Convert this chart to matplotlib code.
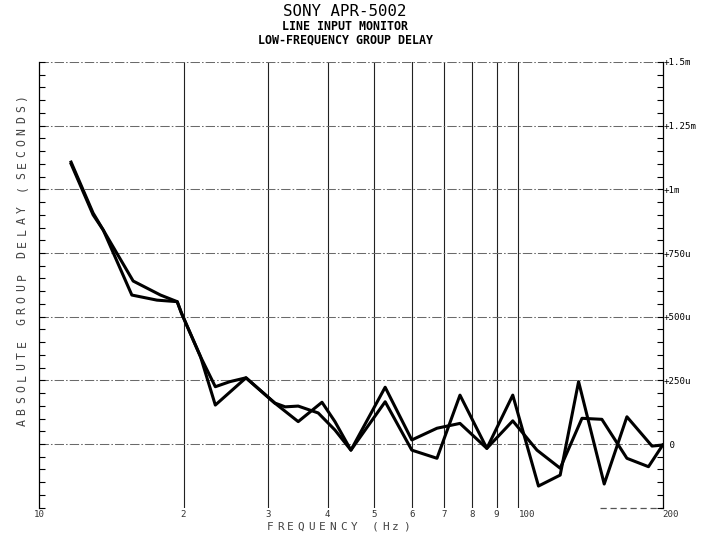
import numpy as np
import matplotlib
matplotlib.use("Agg")
import matplotlib.pyplot as plt
from matplotlib.ticker import MultipleLocator, NullLocator, FixedLocator

W, H = 705, 535
MONO = "DejaVu Sans Mono"

# frequency in Hz, group delay in microseconds
freq_a = [11.65, 12.95, 13.6, 15.7, 17.9, 19.4, 19.8, 21.7, 23.3, 25.0,
          27.0, 31.0, 32.6, 34.7, 38.2, 41.4, 44.7, 52.7, 59.9, 67.6,
          75.5, 85.9, 97.3, 110.1, 122.2, 133.5, 151.0, 168.4, 190.0, 200.0]
delay_a = [1107, 907, 840, 640, 585, 559, 514, 343, 225, 245,
           260, 161, 146, 149, 122, 55, -24, 223, 16, 62,
           81, -17, 192, -165, -122, 245, -157, 107, -8, -4]

freq_b = [11.65, 12.95, 13.6, 15.6, 17.6, 19.4, 19.8, 21.7, 23.3, 27.0,
          31.0, 34.7, 38.9, 41.4, 44.7, 52.7, 59.9, 67.6, 75.5, 85.9,
          97.3, 109.3, 122.2, 135.7, 149.3, 168.4, 186.8, 200.0]
delay_b = [1100, 900, 840, 585, 565, 559, 514, 343, 153, 260,
           161, 88, 164, 88, -24, 166, -24, -56, 192, -17,
           91, -24, -95, 101, 97, -56, -89, -4]

x_ticks = [10, 20, 30, 40, 50, 60, 70, 80, 90, 100, 200]
x_tick_labels = ["10", "2", "3", "4", "5", "6", "7", "8", "9", "100", "200"]
grid_freqs = [20, 30, 40, 50, 60, 70, 80, 90, 100]
y_ticks = [-250, 0, 250, 500, 750, 1000, 1250, 1500]
y_tick_labels = ["", " 0", "+250u", "+500u", "+750u", "+1m", "+1.25m", "+1.5m"]

title_lines = ["SONY APR-5002", "LINE INPUT MONITOR", "LOW-FREQUENCY GROUP DELAY"]
y_label = "ABSOLUTE GROUP DELAY (SECONDS)"
x_label = "FREQUENCY (Hz)"


def spaced_text(fig, s, x_px, y_px, pitch, vertical=False, **kw):
    # plotter style lettering: one glyph per fixed cell
    n = len(s)
    for i, ch in enumerate(s):
        if ch == " ":
            continue
        off = (i - (n - 1) / 2) * pitch
        if vertical:
            fig.text(x_px / W, 1 - (y_px - off) / H, ch, rotation=90,
                     ha="center", va="center", **kw)
        else:
            fig.text((x_px + off) / W, 1 - y_px / H, ch,
                     ha="center", va="center", **kw)


fig = plt.figure(figsize=(W / 100, H / 100), dpi=100)
x0, x1, y_top, y_bot = 39.3, 662.7, 62.0, 507.7
ax = fig.add_axes([x0 / W, (H - y_bot) / H, (x1 - x0) / W, (y_bot - y_top) / H])

ax.set_xscale("log")
ax.set_xlim(10, 200)
ax.set_ylim(-250, 1500)

for f in grid_freqs:
    ax.axvline(f, color="#222222", lw=0.8, zorder=1)
for v in y_ticks[1:]:
    ax.axhline(v, color="#6a6a6a", lw=0.75, ls=(0, (9, 2, 1.5, 2)), zorder=1)
ax.plot([148, 200], [-250, -250], color="#555555", lw=0.9, ls=(0, (5, 3)),
        zorder=1, clip_on=False)

ax.plot(freq_a, delay_a, color="black", lw=2.2, zorder=3)
ax.plot(freq_b, delay_b, color="black", lw=2.2, zorder=3)

ax.spines["top"].set_visible(False)
ax.spines["bottom"].set_visible(False)
for side in ("left", "right"):
    ax.spines[side].set_linewidth(0.9)
    ax.spines[side].set_color("black")

ax.xaxis.set_major_locator(FixedLocator(x_ticks))
ax.xaxis.set_minor_locator(NullLocator())
ax.set_xticklabels(x_tick_labels)
ax.tick_params(axis="x", length=0, pad=1.5, labelsize=6.6, labelcolor="#333333")
for lab in ax.get_xticklabels():
    lab.set_fontfamily(MONO)
    if lab.get_text() in ("100", "200"):
        lab.set_ha("left")

ax.yaxis.set_major_locator(FixedLocator(y_ticks))
ax.yaxis.set_minor_locator(MultipleLocator(50))
ax.set_yticklabels(y_tick_labels)
ax.tick_params(axis="y", which="both", direction="in", left=True, right=True,
               length=4.5, width=0.8, labelleft=False, labelright=True,
               pad=1, labelsize=6.6)
for lab in ax.get_yticklabels(which="both"):
    lab.set_fontfamily(MONO)

fig.text(345 / W, 1 - 12 / H, title_lines[0], family=MONO, fontsize=11.3,
         ha="center", va="center")
fig.text(345 / W, 1 - 27 / H, title_lines[1], family=MONO, fontsize=8.4,
         weight="bold", ha="center", va="center")
fig.text(345 / W, 1 - 40 / H, title_lines[2], family=MONO, fontsize=8.4,
         weight="bold", ha="center", va="center")

spaced_text(fig, y_label, 22, 260, 11.2, vertical=True,
            family=MONO, fontsize=8.3, color="#444444")
spaced_text(fig, x_label, 338, 526.5, 10.5,
            family=MONO, fontsize=8.0, color="#444444")

fig.savefig("out.png", dpi=100)
